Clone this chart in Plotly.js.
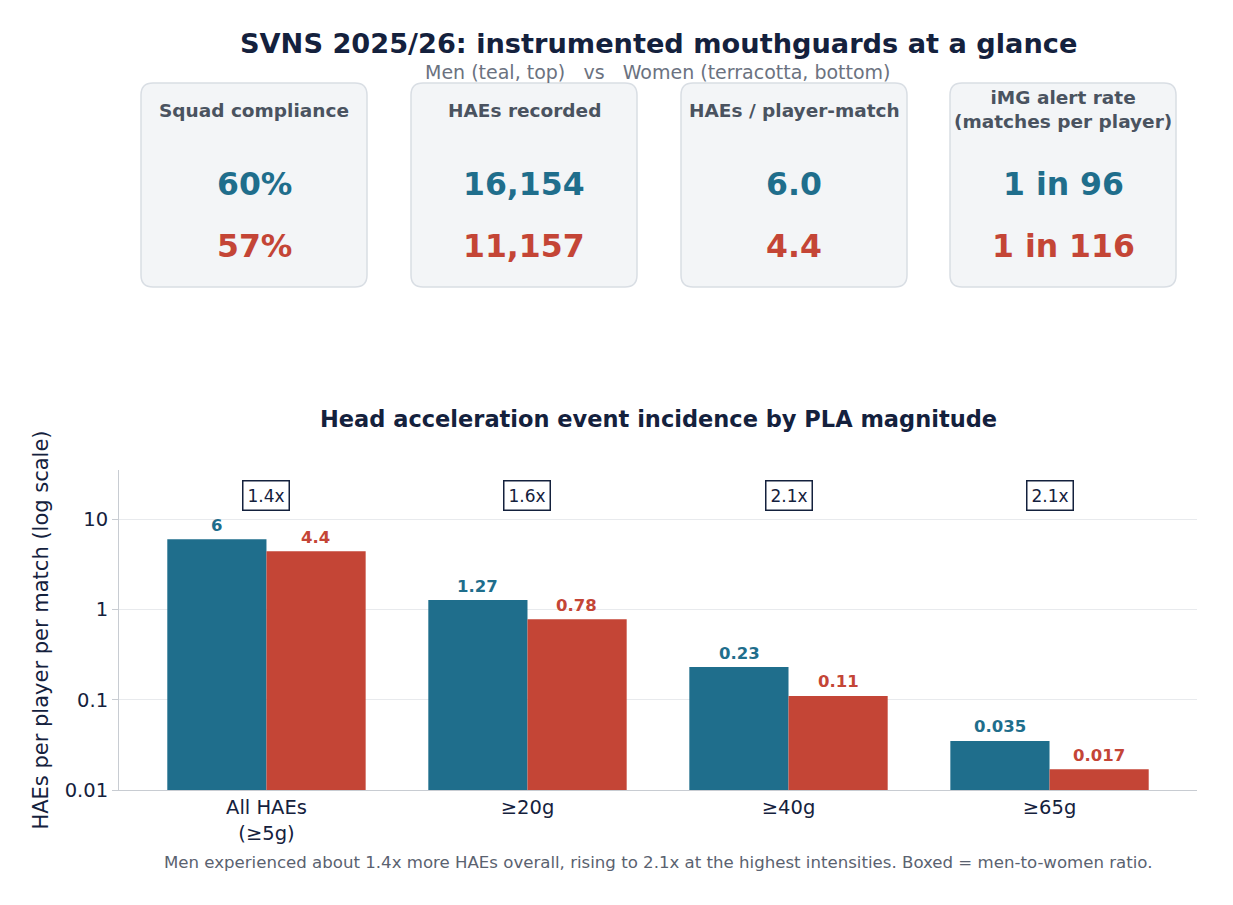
<!DOCTYPE html>
<html>
<head>
<meta charset="utf-8">
<script src="https://cdn.plot.ly/plotly-3.0.1.min.js"></script>
<style>body{margin:0;background:#fff}</style>
</head>
<body>
<div id="chart" style="width:1233px;height:905px"></div>
<script>
// categories and series
var categories = ['All HAEs<br>(≥5g)', '≥20g', '≥40g', '≥65g'];
var menRate = [6, 1.27, 0.23, 0.035];
var womenRate = [4.4, 0.78, 0.11, 0.017];
var menLabels = ['6', '1.27', '0.23', '0.035'];
var womenLabels = ['4.4', '0.78', '0.11', '0.017'];
var ratios = ['1.4x', '1.6x', '2.1x', '2.1x'];

// KPI cards
var cardTitles = ['Squad compliance', 'HAEs recorded', 'HAEs / player-match', 'iMG alert rate<br>(matches per player)'];
var cardMen = ['60%', '16,154', '6.0', '1 in 96'];
var cardWomen = ['57%', '11,157', '4.4', '1 in 116'];

var teal = '#1f6e8c', terra = '#c44536', navy = '#14213d';
var font = 'DejaVu Sans, sans-serif';

var data = [
  {x: [0, 1, 2, 3], y: menRate, type: 'bar', marker: {color: teal}, name: 'Men', hoverinfo: 'skip'},
  {x: [0, 1, 2, 3], y: womenRate, type: 'bar', marker: {color: terra}, name: 'Women', hoverinfo: 'skip'}
];

var shapes = [], annotations = [];
var W = 1078, H = 905;
function rrect(x0, x1, y0, y1, r) {
  var rx = r / W, ry = r / H;
  return 'M' + (x0 + rx) + ',' + y1 + ' L' + (x1 - rx) + ',' + y1 +
    ' Q' + x1 + ',' + y1 + ' ' + x1 + ',' + (y1 - ry) +
    ' L' + x1 + ',' + (y0 + ry) + ' Q' + x1 + ',' + y0 + ' ' + (x1 - rx) + ',' + y0 +
    ' L' + (x0 + rx) + ',' + y0 + ' Q' + x0 + ',' + y0 + ' ' + x0 + ',' + (y0 + ry) +
    ' L' + x0 + ',' + (y1 - ry) + ' Q' + x0 + ',' + y1 + ' ' + (x0 + rx) + ',' + y1 + ' Z';
}
function note(px, py, text, size, color) {
  return {xref: 'paper', yref: 'paper', x: (px - 119) / W, y: 1 - py / H, xanchor: 'center', yanchor: 'middle',
    text: text, showarrow: false, font: {family: font, size: size, color: color}};
}
var cardLeft = [141, 411, 681, 950];
for (var i = 0; i < 4; i++) {
  var x0 = (cardLeft[i] - 119) / W, x1 = (cardLeft[i] + 226 - 119) / W;
  var pc = cardLeft[i] + 113;
  shapes.push({type: 'path', xref: 'paper', yref: 'paper', path: rrect(x0, x1, 1 - 287 / H, 1 - 83 / H, 12),
    fillcolor: '#f3f5f7', line: {color: '#d9dee4', width: 1.5}});
  annotations.push(note(pc, i == 3 ? 109 : 110, '<b>' + cardTitles[i] + '</b>', 18.5, '#4a5360'));
  annotations.push(note(pc, 184, '<b>' + cardMen[i] + '</b>', 31.5, teal));
  annotations.push(note(pc, 246, '<b>' + cardWomen[i] + '</b>', 31.5, terra));
}
// titles
annotations.push(note(658, 44, '<b>SVNS 2025/26: instrumented mouthguards at a glance</b>', 27.2, navy));
annotations.push(note(658, 72, 'Men (teal, top)   vs   Women (terracotta, bottom)', 19, '#6b7280'));
annotations.push(note(658, 419, '<b>Head acceleration event incidence by PLA magnitude</b>', 22.5, navy));
annotations.push(note(658, 862, 'Men experienced about 1.4x more HAEs overall, rising to 2.1x at the highest intensities. Boxed = men-to-women ratio.', 16.6, '#5a6270'));
// bar labels and ratio boxes
for (var j = 0; j < categories.length; j++) {
  annotations.push({x: j, y: Math.log10(menRate[j]), xshift: -49.5, yshift: 14, text: '<b>' + menLabels[j] + '</b>',
    showarrow: false, font: {family: font, size: 16.5, color: teal}});
  annotations.push({x: j, y: Math.log10(womenRate[j]), xshift: 49.5, yshift: 14, text: '<b>' + womenLabels[j] + '</b>',
    showarrow: false, font: {family: font, size: 16.5, color: terra}});
  annotations.push({x: j, xref: 'x', yref: 'paper', y: 1 - 496 / H, yanchor: 'middle', text: ratios[j], showarrow: false,
    font: {family: font, size: 17, color: navy}, bordercolor: navy, borderwidth: 1.5, borderpad: 4, bgcolor: '#fff'});
}

var layout = {
  width: 1233, height: 905,
  margin: {l: 119, r: 36, t: 0, b: 0},
  paper_bgcolor: '#fff', plot_bgcolor: '#fff',
  showlegend: false,
  barmode: 'group', bargap: 0.24, bargroupgap: 0,
  font: {family: font, color: navy},
  xaxis: {domain: [0, 1], range: [-0.565, 3.565], tickvals: [0, 1, 2, 3], ticktext: categories,
    tickfont: {size: 19.5, color: navy}, showline: true, linecolor: '#c8ccd2', ticks: '', showgrid: false, zeroline: false},
  yaxis: {domain: [1 - 790 / H, 1 - 470 / H], type: 'log', range: [-2, Math.log10(35)],
    tickvals: [0.01, 0.1, 1, 10], ticktext: ['0.01', '0.1', '1', '10'], tickfont: {size: 19.5, color: navy},
    ticks: 'outside', ticklen: 6, tickcolor: '#c8ccd2',
    showgrid: true, gridcolor: '#e8eaed', showline: true, linecolor: '#c8ccd2', zeroline: false,
    title: {text: 'HAEs per player per match (log scale)', font: {size: 21, color: navy}, standoff: 10}},
  shapes: shapes,
  annotations: annotations
};

Plotly.newPlot('chart', data, layout, {displayModeBar: false, staticPlot: true});
</script>
</body>
</html>
